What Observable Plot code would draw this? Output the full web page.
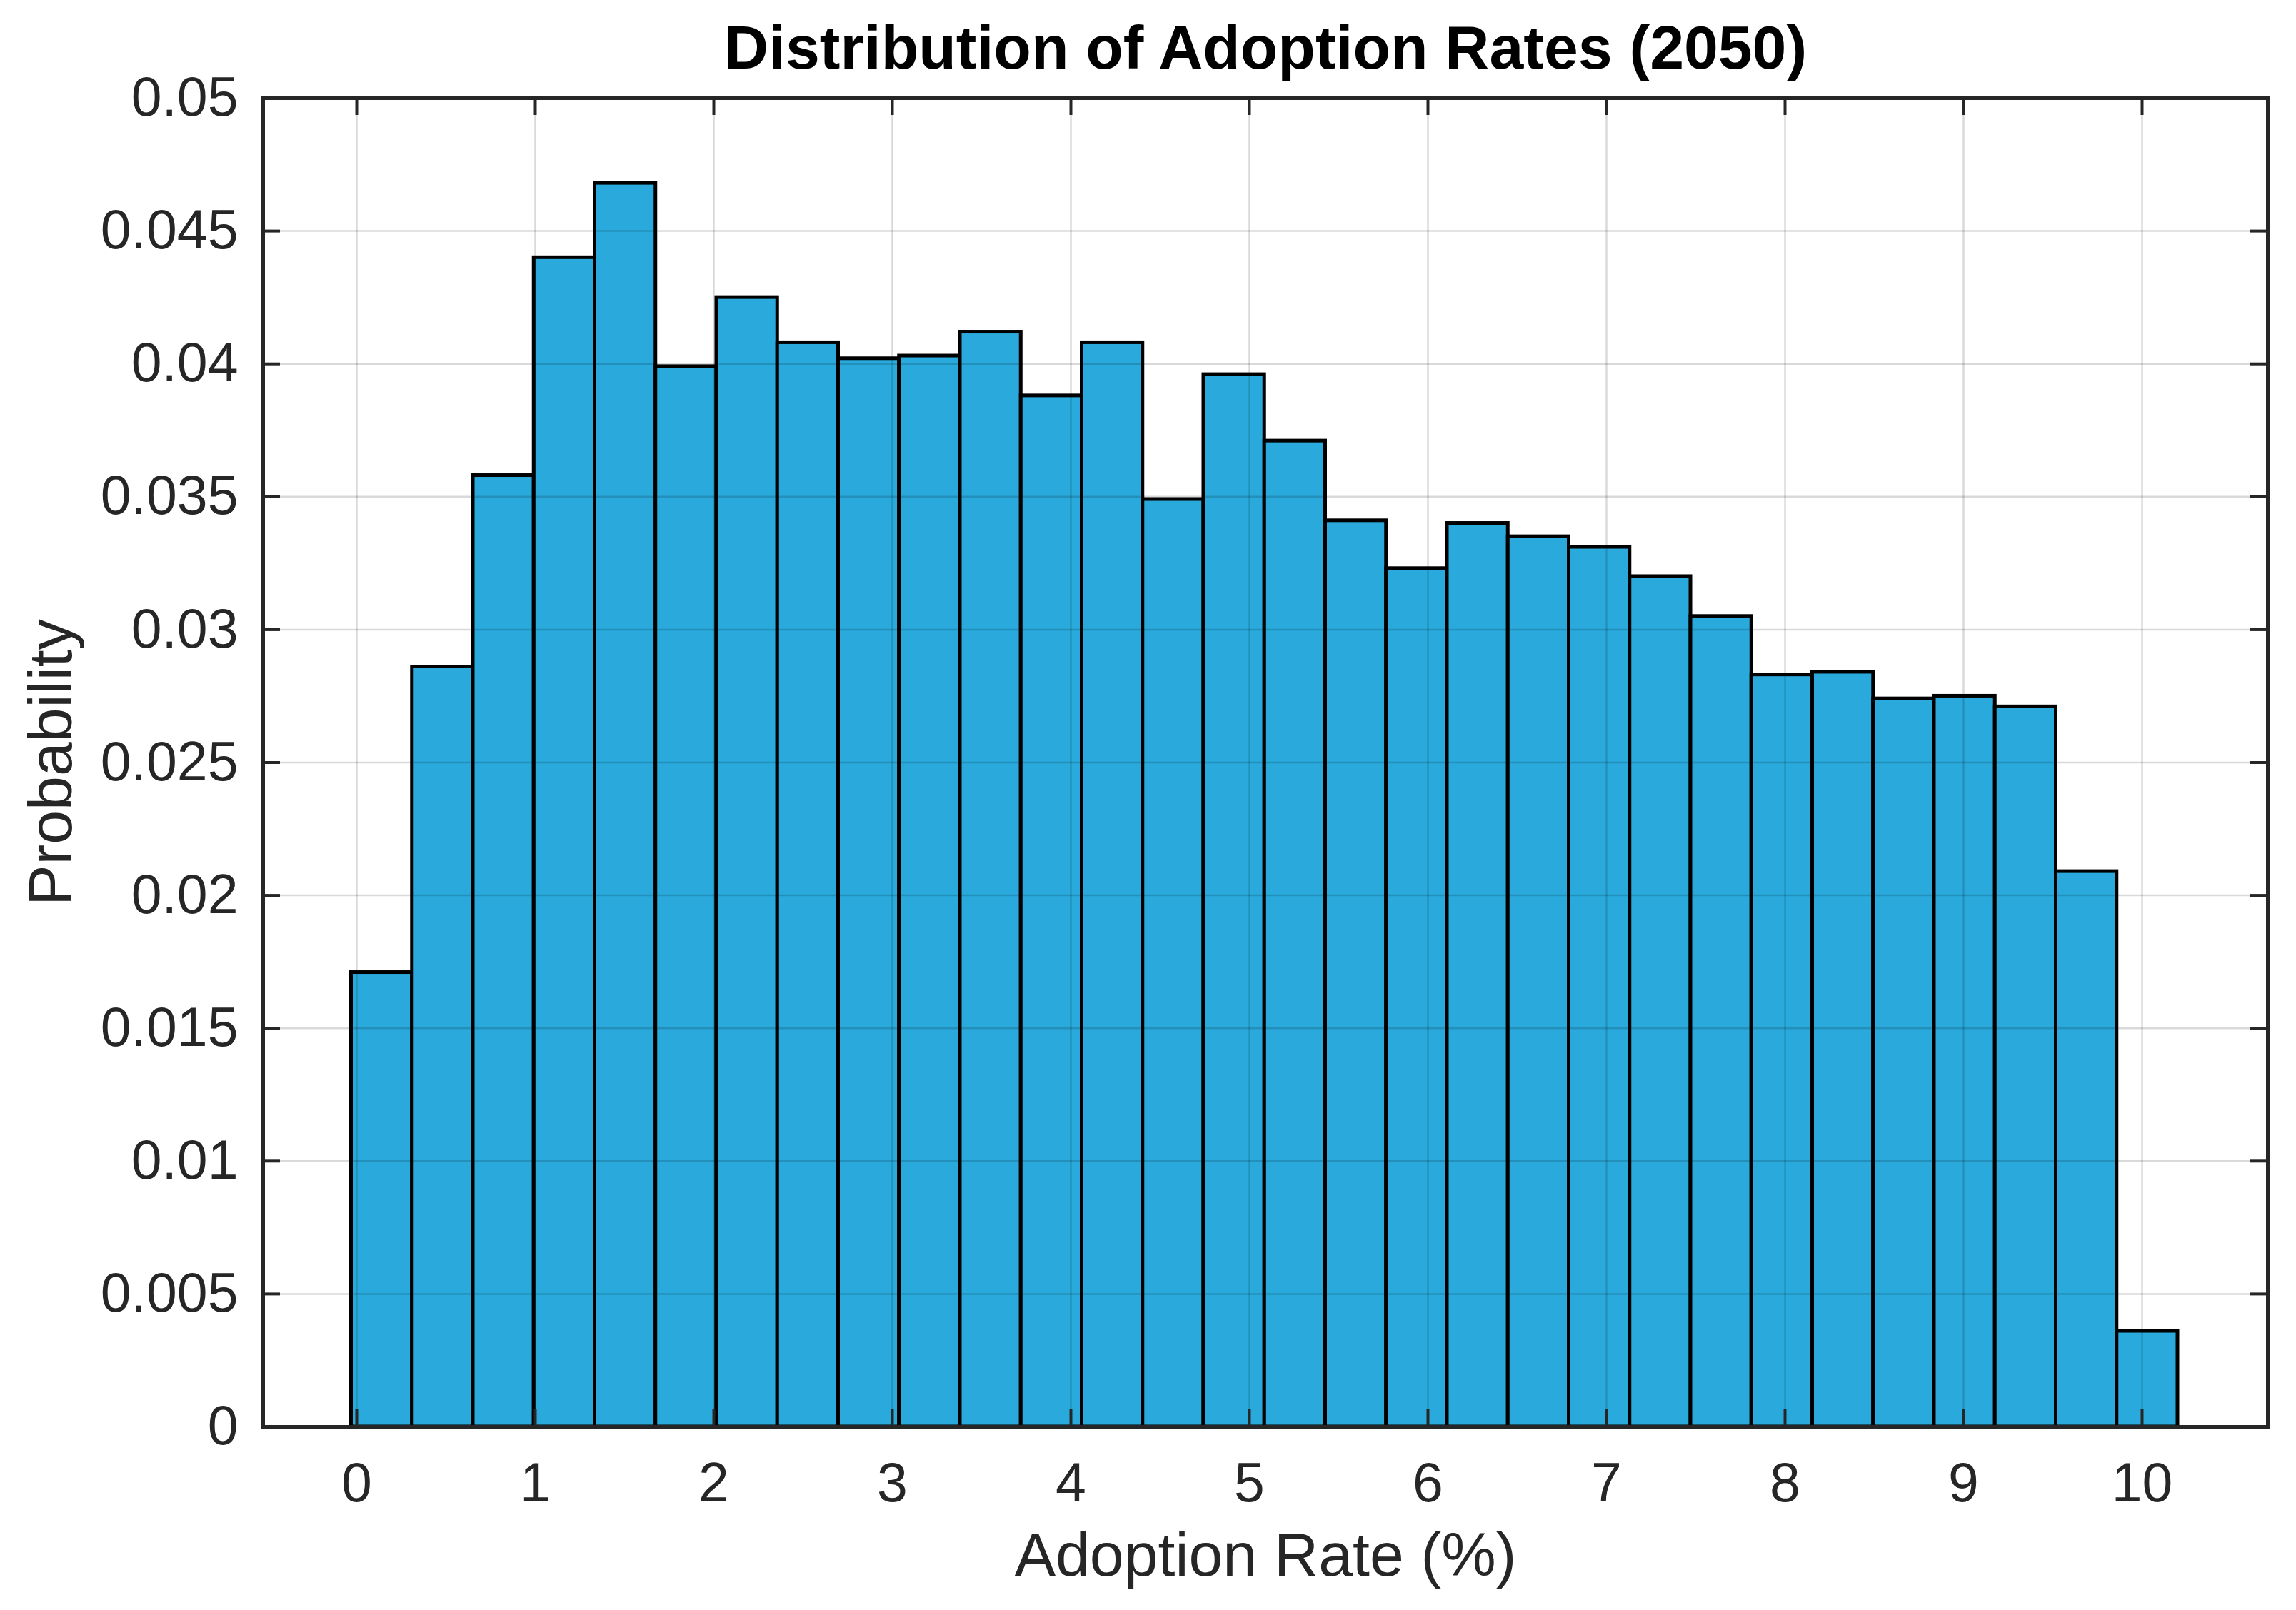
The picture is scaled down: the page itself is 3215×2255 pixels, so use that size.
<!DOCTYPE html>
<html>
<head>
<meta charset="utf-8">
<script src="https://cdn.jsdelivr.net/npm/d3@7"></script>
<script src="https://cdn.jsdelivr.net/npm/@observablehq/plot@0.6"></script>
<style>
  html, body { margin: 0; padding: 0; background: #fff; }
</style>
</head>
<body>
<div id="chart"></div>
<script>
// Histogram bin edges (Adoption Rate, %)
const binEdges = [-0.03, 0.311, 0.652, 0.993, 1.334, 1.675, 2.016, 2.357, 2.698, 3.039, 3.38,
                  3.721, 4.062, 4.403, 4.744, 5.085, 5.426, 5.767, 6.108, 6.449, 6.79,
                  7.131, 7.472, 7.813, 8.154, 8.495, 8.836, 9.177, 9.518, 9.859, 10.2];
// Probability per bin
const probabilities = [0.0171, 0.0286, 0.0358, 0.0440, 0.0468, 0.0399, 0.0425, 0.0408, 0.0402, 0.0403,
                       0.0412, 0.0388, 0.0408, 0.0349, 0.0396, 0.0371, 0.0341, 0.0323, 0.0340, 0.0335,
                       0.0331, 0.0320, 0.0305, 0.0283, 0.0284, 0.0274, 0.0275, 0.0271, 0.0209, 0.0036];
const xTicks = [0, 1, 2, 3, 4, 5, 6, 7, 8, 9, 10];
const yTicks = [0, 0.005, 0.01, 0.015, 0.02, 0.025, 0.03, 0.035, 0.04, 0.045, 0.05];
const titleText = "Distribution of Adoption Rates (2050)";
const xLabel = "Adoption Rate (%)";
const yLabel = "Probability";

const bars = probabilities.map((p, i) => ({x1: binEdges[i], x2: binEdges[i + 1], y: p}));

const W = 3215, H = 2255;
const mL = 368, mR = 40, mT = 137, mB = 257;
const innerW = W - mL - mR, innerH = H - mT - mB;
const tickLen = 24;
const ink = "#262626";
const fmtY = d => String(+d.toFixed(3));
const fmtX = d => String(d);

const chart = Plot.plot({
  width: W,
  height: H,
  marginLeft: mL, marginRight: mR, marginTop: mT, marginBottom: mB,
  style: {fontFamily: "'Liberation Sans', Arial, Helvetica, sans-serif", fontSize: "77px", color: ink, background: "#fff"},
  x: {domain: [-0.524, 10.704], ticks: xTicks},
  y: {domain: [0, 0.05], ticks: yTicks},
  marks: [
    Plot.rectY(bars, {x1: "x1", x2: "x2", y: "y", fill: "#2aaadc", stroke: "#000", strokeWidth: 5}),
    Plot.gridX(xTicks, {stroke: "#000", strokeOpacity: 0.15, strokeWidth: 2.5}),
    Plot.gridY(yTicks, {stroke: "#000", strokeOpacity: 0.15, strokeWidth: 2.5}),
    // inward ticks on all four sides
    Plot.tickX(xTicks, {x: d => d, stroke: ink, strokeWidth: 4, insetTop: innerH - tickLen}),
    Plot.tickX(xTicks, {x: d => d, stroke: ink, strokeWidth: 4, insetBottom: innerH - tickLen}),
    Plot.tickY(yTicks, {y: d => d, stroke: ink, strokeWidth: 4, insetRight: innerW - tickLen}),
    Plot.tickY(yTicks, {y: d => d, stroke: ink, strokeWidth: 4, insetLeft: innerW - tickLen}),
    Plot.frame({stroke: ink, strokeWidth: 5}),
    Plot.axisX(xTicks, {anchor: "bottom", tickSize: 0, tickPadding: 50, label: null, tickFormat: fmtX, fontSize: 77, fill: ink}),
    Plot.axisY(yTicks, {anchor: "left", tickSize: 0, tickPadding: 35, label: null, tickFormat: fmtY, fontSize: 77, fill: ink}),
    Plot.text([xLabel], {frameAnchor: "bottom", dy: 181, lineAnchor: "middle", textAnchor: "middle", fontSize: 86, fill: ink}),
    Plot.text([yLabel], {frameAnchor: "left", dx: -296, rotate: -90, lineAnchor: "middle", textAnchor: "middle", fontSize: 86, fill: ink}),
    Plot.text([titleText], {frameAnchor: "top", dy: -69, lineAnchor: "middle", textAnchor: "middle", fontSize: 86, fontWeight: "bold", fill: "#000"})
  ]
});
document.getElementById("chart").appendChild(chart);
</script>
</body>
</html>
